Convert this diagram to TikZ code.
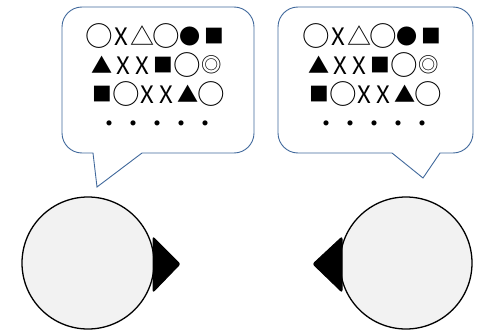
\documentclass[tikz,border=0pt]{standalone}
\usepackage{fontspec}
\usepackage{graphicx}
\newfontfamily\jpfont{Noto Sans CJK JP}
\definecolor{bubbleblue}{RGB}{65,105,156}
\definecolor{headgray}{RGB}{242,242,242}
% one mark in a 1em cell: scale, lift, glyph
\newcommand{\glyph}[3]{\makebox[1em]{\raisebox{#2}{\scalebox{#1}{#3}}}}
\newcommand{\markO}{\glyph{1.15}{-0.057em}{○}}
\newcommand{\markT}{\glyph{1.0}{0em}{△}}
\newcommand{\markB}{\glyph{0.88}{0.046em}{●}}
\newcommand{\markS}{\glyph{0.82}{0.068em}{■}}
\newcommand{\markA}{\glyph{0.88}{0.046em}{▲}}
\newcommand{\markW}{\glyph{0.85}{0.057em}{◎}}
\newcommand{\markX}{\makebox[0.78em]{X}}

\begin{document}
\begin{tikzpicture}[x=1pt, y=1pt]
% Styles
\tikzset{
    bubble/.style={draw=bubbleblue, line width=0.9pt, fill=white, line join=miter},
    head/.style={circle, draw=black, line width=1.3pt, fill=headgray, minimum size=132pt, inner sep=0pt},
    nose/.style={fill=black, draw=black, line width=1pt, rounded corners=2pt},
    marks/.style={align=center, font=\jpfont\fontsize{24}{29}\selectfont, inner sep=0pt}
}
\useasboundingbox (0, 0) rectangle (481, 330);

% Speech bubbles
\draw[bubble] (142, 177) -- (234, 177) arc[start angle=-90, end angle=0, radius=20]
    -- (254, 303) arc[start angle=0, end angle=90, radius=20]
    -- (82, 323) arc[start angle=90, end angle=180, radius=20]
    -- (62, 197) arc[start angle=180, end angle=270, radius=20]
    -- (93, 177) -- (97, 143) -- cycle;
\draw[bubble] (440, 177) -- (453, 177) arc[start angle=-90, end angle=0, radius=20]
    -- (473, 303) arc[start angle=0, end angle=90, radius=20]
    -- (298, 323) arc[start angle=90, end angle=180, radius=20]
    -- (278, 197) arc[start angle=180, end angle=270, radius=20]
    -- (392, 177) -- (423, 152) -- cycle;

% Texts
\node[marks] (talkL) at (157, 252) {\markO\markX\markT\markO\markB\markS\\
    \markA\markX\markX\markS\markO\markW\\
    \markS\markO\markX\markX\markA\markO\\
    ・・・・・};
\node[marks] (talkR) at (374, 252) {\markO\markX\markT\markO\markB\markS\\
    \markA\markX\markX\markS\markO\markW\\
    \markS\markO\markX\markX\markA\markO\\
    ・・・・・};

% Heads
\node[head] (headL) at (88, 67) {};
\node[head] (headR) at (406, 67) {};

\fill[nose] (153, 93) -- (180, 66) -- (153, 38) -- cycle;
\fill[nose] (342, 93) -- (313, 66) -- (342, 38) -- cycle;
\end{tikzpicture}
\end{document}
